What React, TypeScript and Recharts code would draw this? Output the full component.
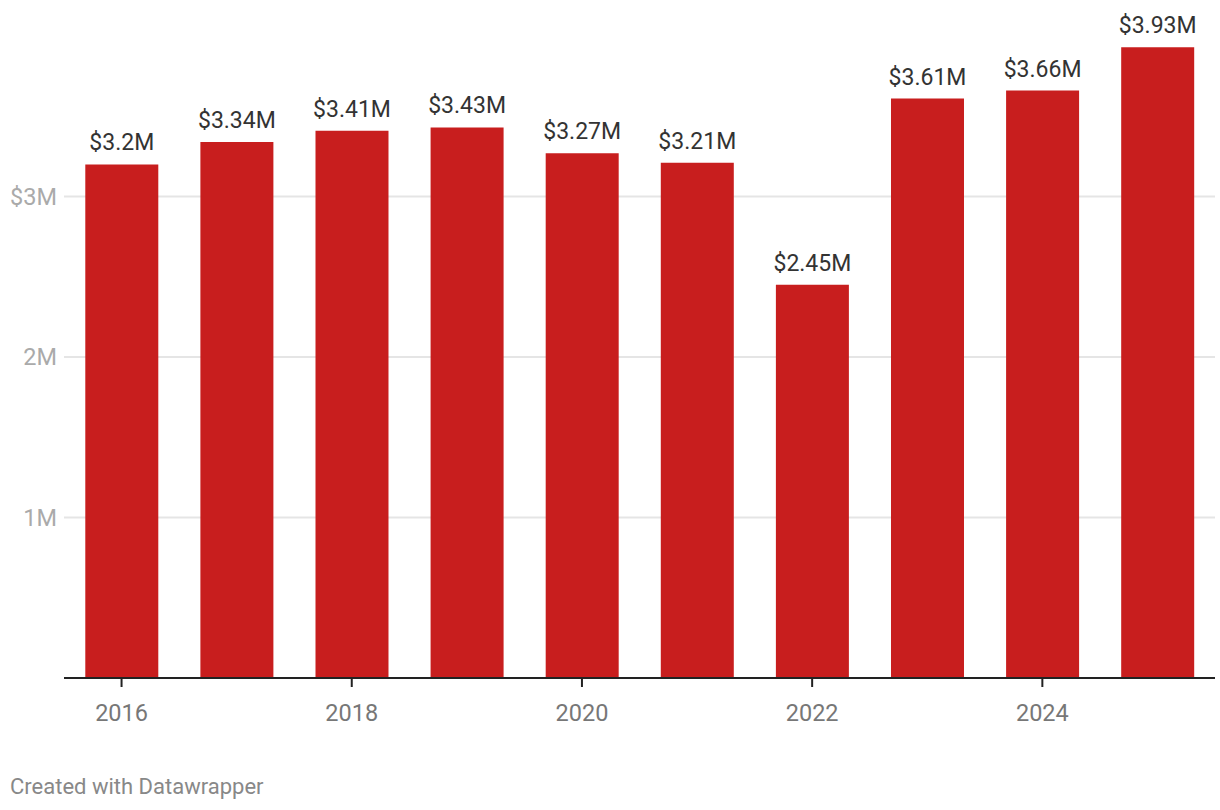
import React from 'react';
import { BarChart, Bar, XAxis, YAxis, CartesianGrid, LabelList } from 'recharts';

const years = ['2016', '2017', '2018', '2019', '2020', '2021', '2022', '2023', '2024', '2025'];
const revenueMillions = [3.2, 3.34, 3.41, 3.43, 3.27, 3.21, 2.45, 3.61, 3.66, 3.93];
const yTicks = [1, 2, 3];

const data = years.map((year, i) => ({ year, value: revenueMillions[i] }));

const FONT = 'Roboto, "Noto Sans", sans-serif';

const fmtTick = (v: number) => (v === 3 ? '$3M' : `${v}M`);
const fmtLabel = (v: number) => `$${v}M`;

const App = () => {
  return (
    <div style={{ position: 'absolute', left: 0, top: 0, width: 1220, height: 810, background: '#fff', fontFamily: FONT }}>
      <BarChart
        width={1220}
        height={740}
        data={data}
        margin={{ top: 36, right: 5, left: 0, bottom: 12 }}
        barCategoryGap="18.5%"
      >
        <CartesianGrid vertical={false} horizontalValues={yTicks} stroke="#e5e5e5" strokeWidth={2} />
        <YAxis
          width={64}
          domain={[0, 4]}
          ticks={yTicks}
          tickFormatter={fmtTick}
          axisLine={false}
          tickLine={false}
          tickSize={0}
          tickMargin={7}
          tick={{ fill: '#aaaaaa', fontSize: 23.5, fontFamily: FONT }}
        />
        <XAxis
          dataKey="year"
          height={50}
          interval={1}
          axisLine={{ stroke: '#222', strokeWidth: 2 }}
          tickLine={{ stroke: '#222', strokeWidth: 2 }}
          tickSize={9}
          tickMargin={17}
          tick={{ fill: '#777', fontSize: 23.5, fontFamily: FONT }}
        />
        <Bar dataKey="value" fill="#c81e1e" isAnimationActive={false}>
          <LabelList
            dataKey="value"
            position="top"
            offset={14}
            formatter={fmtLabel}
            style={{ fill: '#333', fontSize: 23, fontFamily: FONT }}
          />
        </Bar>
      </BarChart>
      <div style={{ position: 'absolute', left: 10, top: 774, fontSize: 22, color: '#888', fontFamily: FONT }}>
        Created with Datawrapper
      </div>
    </div>
  );
};

export default App;
